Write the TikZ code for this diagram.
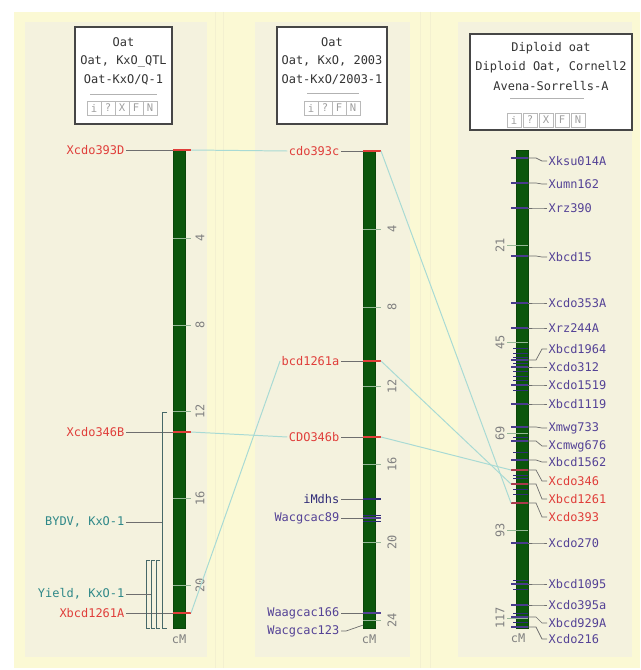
\documentclass[tikz,border=0pt]{standalone}
\usepackage{fontspec}
\setmonofont{DejaVu Sans Mono}
\usetikzlibrary{calc}

\definecolor{bargreen}{RGB}{12,86,12}
\definecolor{mkred}{RGB}{224,62,58}
\definecolor{mkblue}{RGB}{84,66,150}
\definecolor{navy}{RGB}{48,44,120}
\definecolor{qtlc}{RGB}{46,136,136}
\definecolor{qtlb}{RGB}{70,104,104}
\definecolor{leadc}{RGB}{110,110,110}
\definecolor{linkc}{RGB}{168,218,212}
\definecolor{tickc}{RGB}{150,182,150}
\definecolor{outerc}{RGB}{251,249,212}
\definecolor{innerc}{RGB}{244,242,222}
\definecolor{sepc}{RGB}{243,240,208}
\definecolor{boxc}{RGB}{70,70,70}

\begin{document}
\begin{tikzpicture}[x=0.025cm,y=-0.025cm,
  lbl/.style={font=\ttfamily\fontsize{8.5}{9}\selectfont,inner sep=1pt},
  ttl/.style={lbl,text=black!80},
  ticklbl/.style={lbl,text=gray,rotate=90},
  leader/.style={leadc,line width=0.5pt},
  link/.style={linkc,line width=0.7pt},
  bracket/.style={qtlb,line width=0.6pt},
  btn/.style={draw=gray!55,text=gray!75,font=\ttfamily\fontsize{7.5}{8}\selectfont,
    minimum size=0.34cm,inner sep=0pt},
  chrbar/.style={fill=bargreen,draw=bargreen!80!black,inner sep=0pt,outer sep=0pt,
    minimum width=0.3cm,minimum height=11.95cm,anchor=north}]
\useasboundingbox (0,0) rectangle (640,670);
\fill[white] (0,0) rectangle (640,670);
\fill[outerc] (14,12) rectangle (640,668);
\draw[sepc] (215,12) -- (215,668) (223,12) -- (223,668) (420,12) -- (420,668) (430,12) -- (430,668);
\fill[innerc] (25,22) rectangle (207,657);
\fill[innerc] (255,22) rectangle (410,657);
\fill[innerc] (458,22) rectangle (632,657);

% title boxes
\draw[boxc,line width=0.9pt,fill=white] (75,27) rectangle (172,124);
\node[ttl] (t1a) at (123.5,42) {Oat};
\node[ttl] (t1b) at (123.5,61) {Oat, KxO\_QTL};
\node[ttl] (t1c) at (123.5,80) {Oat-KxO/Q-1};
\draw[gray!60] (90,94) -- (157,94);
\foreach \l [count=\i] in {i,?,X,F,N}
  \node[btn] (b1\i) at (80+14*\i,108) {\l};

\draw[boxc,line width=0.9pt,fill=white] (277,27) rectangle (387,124);
\node[ttl] (t2a) at (332,42) {Oat};
\node[ttl] (t2b) at (332,61) {Oat, KxO, 2003};
\node[ttl] (t2c) at (332,80) {Oat-KxO/2003-1};
\draw[gray!60] (307,93) -- (359,93);
\foreach \l [count=\i] in {i,?,F,N}
  \node[btn] (b2\i) at (297+14*\i,108) {\l};

\draw[boxc,line width=0.9pt,fill=white] (470,34) rectangle (632,130);
\node[ttl] (t3a) at (551,48) {Diploid oat};
\node[ttl] (t3b) at (551,67) {Diploid Oat, Cornell2};
\node[ttl] (t3c) at (551,86) {Avena-Sorrells-A};
\draw[gray!60] (510,98) -- (584,98);
\foreach \l [count=\i] in {i,?,X,F,N}
  \node[btn] (b3\i) at (498+16*\i,120) {\l};

% chromosomes
\node[chrbar] (chr1) at (179,150) {};
\node[chrbar] (chr2) at (369,150) {};
\node[chrbar] (chr3) at (522,150) {};

\foreach \v/\y in {4/238,8/325,12/411,16/498,20/585} {
  \draw[tickc] (173,\y) -- (191,\y);
  \node[ticklbl] (s1\v) at (200,\y) {\v};
}
\foreach \v/\y in {4/229,8/307,12/386,16/464,20/542,24/620} {
  \draw[tickc] (363,\y) -- (381,\y);
  \node[ticklbl] (s2\v) at (392,\y) {\v};
}
\foreach \v/\y in {21/245,45/342,69/433,93/530,117/618} {
  \draw[tickc] (507,\y) -- (528,\y);
  \node[ticklbl] (s3\v) at (500,\y) {\v};
}
\node[lbl,text=gray] (cm1) at (179,639) {cM};
\node[lbl,text=gray] (cm2) at (369,639) {cM};
\node[lbl,text=gray] (cm3) at (518,638) {cM};

% chr 1 markers and QTL
\foreach \nm/\name/\y in {m1a/Xcdo393D/150,m1b/Xcdo346B/432,m1c/Xbcd1261A/613} {
  \node[lbl,text=mkred,anchor=east] (\nm) at (126,\y) {\name};
  \draw[leader] (\nm.east) -- (\nm.east -| chr1.west);
  \draw[mkred,line width=0.8pt] (\nm.east -| chr1.west) -- (\nm.east -| chr1.east) -- ++(6,0) coordinate (\nm-end);
}
\node[lbl,text=qtlc,anchor=east] (q1a) at (126,522) {BYDV, KxO-1};
\node[lbl,text=qtlc,anchor=east] (q1b) at (126,594) {Yield, KxO-1};
\draw[bracket] (167,412) -- (162,412) -- (162,628) -- (167,628);
\foreach \x in {146,151,156}
  \draw[bracket] (\x+4,560) -- (\x,560) -- (\x,628) -- (\x+4,628);
\coordinate (br1) at (162,522);
\coordinate (br2) at (151,594);
\draw[leader] (q1a.east) -- (br1);
\draw[leader] (q1b.east) -- (br2);

% chr 2 markers
\foreach \nm/\name/\y/\c in {m2a/cdo393c/151/mkred,m2b/bcd1261a/361/mkred,m2c/CDO346b/437/mkred,
    m2d/iMdhs/499/navy,m2e/Wacgcac89/518/mkblue,m2f/Waagcac166/613/mkblue} {
  \node[lbl,text=\c,anchor=east] (\nm) at (341,\y) {\name};
  \draw[leader] (\nm.east) -- (\nm.east -| chr2.west);
  \draw[\c,line width=0.8pt] (\nm.east -| chr2.west) -- (\nm.east -| chr2.east) -- ++(6,0) coordinate (\nm-end);
}
\node[lbl,text=mkblue,anchor=east] (m2g) at (341,631) {Wacgcac123};
\draw[leader] (m2g.east) -- ++(5,0) -- ($(chr2.south west)+(0,-3)$);
\foreach \y in {515,521}
  \draw[navy,line width=0.6pt] (363,\y) -- (381,\y);

% chr 3 markers
\foreach \y in {348,353,357,363,371,376,380,390,437,452,475,478,489,494,580,589,613,622}
  \draw[navy,line width=0.5pt] (513,\y) -- (528,\y);
\foreach \name/\m/\l/\c [count=\i] in {
    Xksu014A/158/161/mkblue,Xumn162/183/184/mkblue,Xrz390/208/208/mkblue,
    Xbcd15/256/257/mkblue,Xcdo353A/303/303/mkblue,Xrz244A/328/328/mkblue,
    Xbcd1964/360/349/mkblue,Xcdo312/367/367/mkblue,Xcdo1519/385/385/mkblue,
    Xbcd1119/404/404/mkblue,Xmwg733/427/428/mkblue,Xcmwg676/441/446/mkblue,
    Xbcd1562/460/462/mkblue,Xcdo346/470/481/mkred,Xbcd1261/484/499/mkred,
    Xcdo393/503/517/mkred,Xcdo270/543/543/mkblue,Xbcd1095/584/584/mkblue,
    Xcdo395a/605/605/mkblue,Xbcd929A/617/623/mkblue,Xcdo216/627/639/mkblue} {
  \draw[\c!70!navy,line width=0.8pt] (511,\m) coordinate (k\i) -- (528,\m);
  \node[lbl,text=\c,anchor=west] (r\i) at (547,\l) {\name};
  \draw[leader] (528,\m) -- (536,\m) -- (542,\l) -- (r\i.west);
}

% homologous links
\draw[link] (m1a-end) -- (m2a.west);
\draw[link] (m1b-end) -- (m2c.west);
\draw[link] (m1c-end) -- (m2b.west);
\draw[link] (m2a-end) -- (k16);
\draw[link] (m2b-end) -- (k15);
\draw[link] (m2c-end) -- (k14);
\end{tikzpicture}
\end{document}
